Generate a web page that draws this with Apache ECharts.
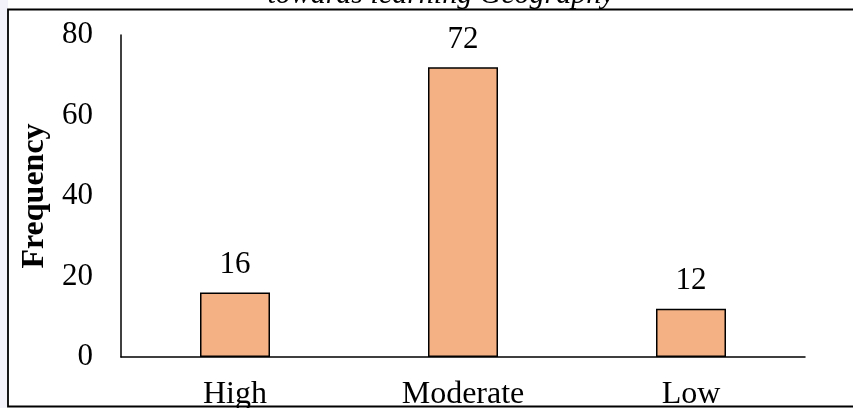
<!DOCTYPE html>
<html>
<head>
<meta charset="utf-8">
<script src="https://cdn.jsdelivr.net/npm/echarts@6/dist/echarts.min.js"></script>
<style>
  html, body { margin: 0; padding: 0; background: #fff; }
  #chart { width: 853px; height: 408px; }
</style>
</head>
<body>
<div id="chart"></div>
<script>
// Attitude levels and their frequencies
const categories = ['High', 'Moderate', 'Low'];
const frequencies = [16, 72, 12];
const yTicks = { min: 0, max: 80, interval: 20 };
const titleText = 'towards learning Geography';
const yAxisName = 'Frequency';

const serif = '"Liberation Serif", "Times New Roman", serif';
const chart = echarts.init(document.getElementById('chart'), null, { renderer: 'canvas' });

chart.setOption({
  animation: false,
  backgroundColor: '#ffffff',
  grid: { left: 121, right: 48, top: 35, bottom: 51, containLabel: false, outerBoundsMode: 'none' },
  xAxis: {
    type: 'category',
    data: categories,
    axisLine: { show: true, lineStyle: { color: '#000', width: 1.5 } },
    axisTick: { show: false },
    axisLabel: { color: '#000', fontFamily: serif, fontSize: 32, margin: 22 }
  },
  yAxis: {
    type: 'value',
    min: yTicks.min,
    max: yTicks.max,
    interval: yTicks.interval,
    name: yAxisName,
    nameLocation: 'middle',
    nameRotate: 90,
    nameGap: 65,
    nameTextStyle: { color: '#000', fontFamily: serif, fontSize: 32, fontWeight: 'bold' },
    axisLine: { show: true, lineStyle: { color: '#000', width: 1.5 } },
    axisTick: { show: false },
    splitLine: { show: false },
    axisLabel: { color: '#000', fontFamily: serif, fontSize: 31, margin: 28, padding: [3, 0, 0, 0] }
  },
  series: [{
    type: 'bar',
    data: frequencies,
    barWidth: 70,
    itemStyle: { color: '#F4B183', borderColor: '#000', borderWidth: 1.5 },
    label: {
      show: true,
      position: 'top',
      distance: 12,
      color: '#000',
      fontFamily: serif,
      fontSize: 31
    }
  }],
  graphic: [
    // faint strip at the far left edge
    { type: 'rect', left: 0, top: 0, shape: { width: 8, height: 408 }, style: { fill: '#F3F1F9' }, z: -10 },
    // chart frame (open on the right edge)
    { type: 'polyline', shape: { points: [[853, 9.5], [8, 9.5], [8, 406.5], [853, 406.5]] },
      style: { stroke: '#000', lineWidth: 1.8, fill: null }, z: 10 },
    // title, mostly above the frame
    { type: 'text', x: 441, y: -5,
      style: { text: titleText, font: 'italic 30px ' + serif, fill: '#000', align: 'center', verticalAlign: 'middle' }, z: 10 }
  ]
});
</script>
</body>
</html>
